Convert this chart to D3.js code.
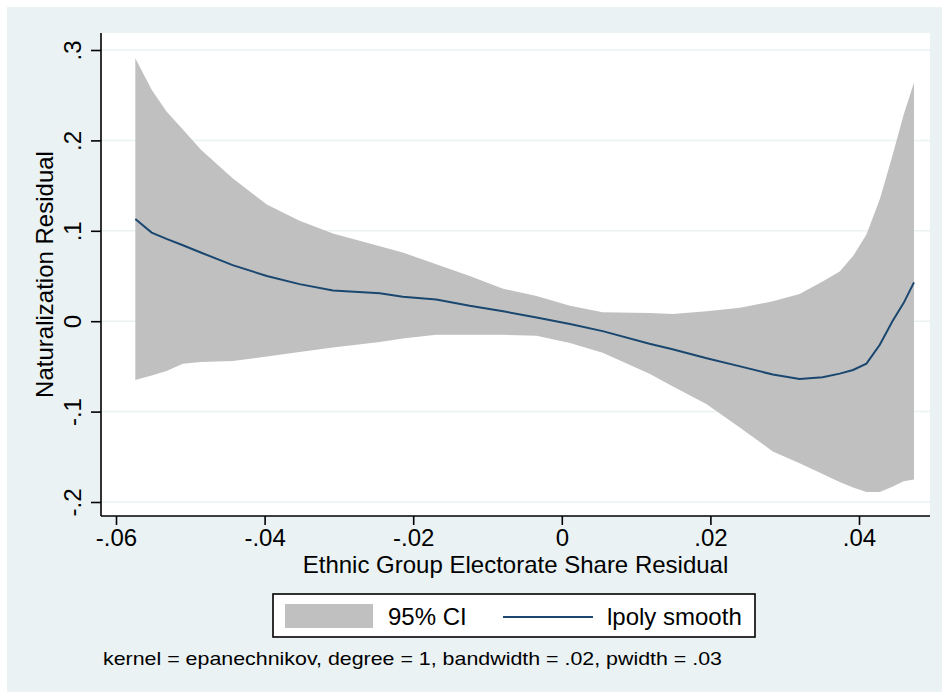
<!DOCTYPE html>
<html>
<head>
<meta charset="utf-8">
<script src="https://cdn.jsdelivr.net/npm/d3@7"></script>
<style>
  body { margin: 0; background: #fff; }
  svg text { font-family: Arial, "Liberation Sans", sans-serif; fill: #000; }
</style>
</head>
<body>
<div id="chart"></div>
<script>
// values
const xValues = [-0.0574, -0.0552, -0.0532, -0.0510, -0.0486, -0.0443, -0.0397, -0.0353, -0.0308, -0.0245,
    -0.0214, -0.0169, -0.0124, -0.0079, -0.0034, 0.0011, 0.0055, 0.0118, 0.0149, 0.0195,
    0.0240, 0.0284, 0.0320, 0.0351, 0.0374, 0.0392, 0.0410, 0.0428, 0.0445, 0.0460, 0.0474];
const ciUpper = [0.291, 0.256, 0.232, 0.212, 0.190, 0.158, 0.129, 0.111, 0.097, 0.083,
    0.076, 0.063, 0.050, 0.036, 0.028, 0.017, 0.010, 0.009, 0.008, 0.011,
    0.015, 0.022, 0.030, 0.044, 0.055, 0.072, 0.096, 0.135, 0.183, 0.228, 0.264];
const smooth = [0.113, 0.098, 0.091, 0.084, 0.076, 0.062, 0.050, 0.041, 0.034, 0.031,
    0.027, 0.024, 0.017, 0.011, 0.004, -0.003, -0.011, -0.025, -0.031, -0.041,
    -0.050, -0.059, -0.064, -0.062, -0.058, -0.054, -0.047, -0.026, 0.000, 0.020, 0.043];
const ciLower = [-0.065, -0.060, -0.055, -0.047, -0.045, -0.044, -0.039, -0.034, -0.029, -0.023,
    -0.019, -0.015, -0.015, -0.015, -0.016, -0.024, -0.035, -0.058, -0.072, -0.092,
    -0.118, -0.144, -0.157, -0.169, -0.178, -0.184, -0.189, -0.189, -0.183, -0.177, -0.175];

const xTicks = [-0.06, -0.04, -0.02, 0, 0.02, 0.04];
const yTicks = [-0.2, -0.1, 0, 0.1, 0.2, 0.3];
// Stata style labels: ".02", "-.06" with a plain hyphen
const fmt = d => d === 0 ? "0" : d3.format(".2~f")(d).replace("\u2212", "-").replace("0.", ".");

const xTitle = "Ethnic Group Electorate Share Residual";
const yTitle = "Naturalization Residual";
const legendLabels = ["95% CI", "lpoly smooth"];
const note = "kernel = epanechnikov, degree = 1, bandwidth = .02, pwidth = .03";

const W = 942, H = 692;
const plot = { left: 101, right: 930, top: 33, bottom: 516 };
const bgColor = "#eaf2f3";
const ciColor = "#c0c0c0";
const lineColor = "#1a476f";

const xScale = d3.scaleLinear().domain([-0.06, 0.04]).range([116, 859]);
const yScale = d3.scaleLinear().domain([-0.2, 0.3]).range([502, 50]);

const data = xValues.map((x, i) => ({ x, lo: ciLower[i], hi: ciUpper[i], y: smooth[i] }));

const svg = d3.select("#chart").append("svg")
    .attr("width", W)
    .attr("height", H);

// outer graph region + plot region
svg.append("rect").attr("x", 7).attr("y", 7).attr("width", W - 7).attr("height", H - 7).attr("fill", bgColor);
svg.append("rect")
    .attr("x", plot.left).attr("y", plot.top)
    .attr("width", plot.right - plot.left).attr("height", plot.bottom - plot.top)
    .attr("fill", "#fff");

// horizontal gridlines
svg.append("g").selectAll("line")
    .data(yTicks)
    .enter().append("line")
    .attr("x1", plot.left).attr("x2", plot.right)
    .attr("y1", d => yScale(d)).attr("y2", d => yScale(d))
    .attr("stroke", bgColor)
    .attr("stroke-width", 1.5);

// confidence band
const area = d3.area()
    .x(d => xScale(d.x))
    .y0(d => yScale(d.lo))
    .y1(d => yScale(d.hi));
svg.append("path").datum(data).attr("d", area).attr("fill", ciColor);

// lpoly smooth line
const line = d3.line().x(d => xScale(d.x)).y(d => yScale(d.y));
svg.append("path").datum(data)
    .attr("d", line)
    .attr("fill", "none")
    .attr("stroke", lineColor)
    .attr("stroke-width", 2);

// axes
const xAxis = svg.append("g")
    .attr("transform", `translate(0,${plot.bottom})`)
    .call(d3.axisBottom(xScale).tickValues(xTicks).tickFormat(fmt).tickSize(9).tickPadding(10));
const yAxis = svg.append("g")
    .attr("transform", `translate(${plot.left},0)`)
    .call(d3.axisLeft(yScale).tickValues(yTicks).tickFormat(fmt).tickSize(10));

xAxis.select(".domain").attr("d", `M${plot.left},0H${plot.right}`);
yAxis.select(".domain").attr("d", `M0,${plot.top}V${plot.bottom}`);
[xAxis, yAxis].forEach(a => {
    a.selectAll(".domain, line").attr("stroke", "#000").attr("stroke-width", 1.6);
    a.selectAll("text").style("font-size", "24px").attr("fill", "#000");
});
xAxis.selectAll("text").attr("dy", "0.71em").attr("y", 13);

// rotated y tick labels
yAxis.selectAll(".tick text")
    .attr("x", null).attr("dy", null)
    .attr("text-anchor", "middle")
    .attr("transform", "translate(-20,0) rotate(-90)");

// axis titles
svg.append("text")
    .attr("x", (plot.left + plot.right) / 2)
    .attr("y", 573)
    .attr("text-anchor", "middle")
    .style("font-size", "24px")
    .text(xTitle);
svg.append("text")
    .attr("transform", `translate(53,${(plot.top + plot.bottom) / 2}) rotate(-90)`)
    .attr("text-anchor", "middle")
    .style("font-size", "24px")
    .text(yTitle);

// legend
const legend = svg.append("g");
legend.append("rect")
    .attr("x", 273).attr("y", 594).attr("width", 482).attr("height", 43)
    .attr("fill", "#fff").attr("stroke", "#000").attr("stroke-width", 1.6);
legend.append("rect")
    .attr("x", 285).attr("y", 604).attr("width", 88).attr("height", 24)
    .attr("fill", ciColor);
legend.append("text").attr("x", 388).attr("y", 625).style("font-size", "24px").text(legendLabels[0]);
legend.append("line")
    .attr("x1", 503).attr("x2", 593).attr("y1", 617).attr("y2", 617)
    .attr("stroke", lineColor).attr("stroke-width", 2);
legend.append("text").attr("x", 607).attr("y", 625).style("font-size", "24px").text(legendLabels[1]);

// note
svg.append("text")
    .attr("x", 103).attr("y", 665)
    .style("font-size", "19px")
    .attr("textLength", 619)
    .attr("lengthAdjust", "spacingAndGlyphs")
    .text(note);
</script>
</body>
</html>
